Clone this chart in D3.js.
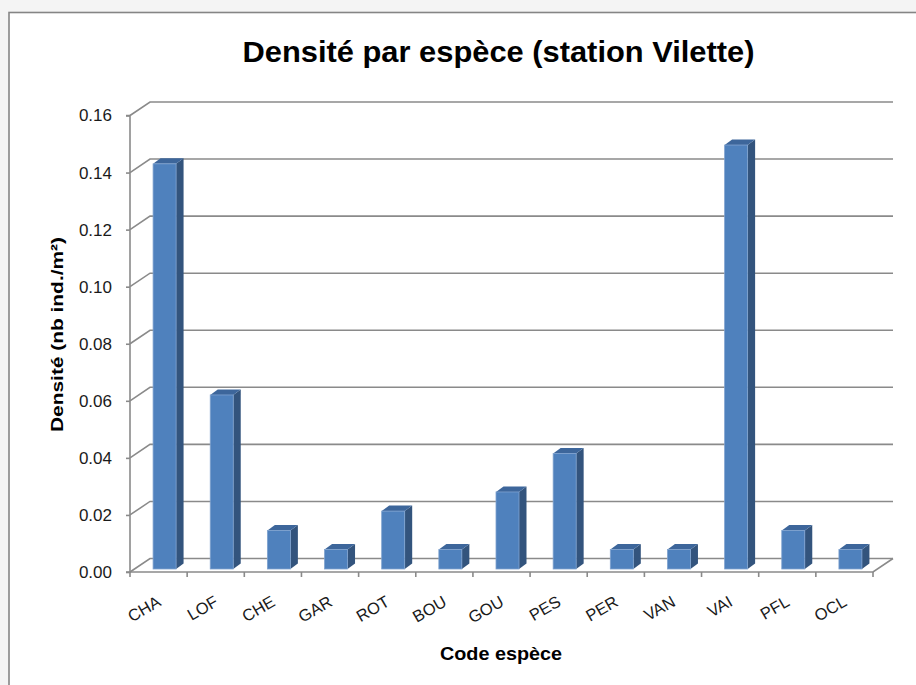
<!DOCTYPE html>
<html>
<head>
<meta charset="utf-8">
<script src="https://cdn.jsdelivr.net/npm/d3@7"></script>
<style>
  html, body { margin: 0; padding: 0; background: #f4f4f4; }
  svg { display: block; font-family: "Liberation Sans", Arial, sans-serif; }
</style>
</head>
<body>
<svg id="chart" width="916" height="685"></svg>
<script>
// ************************************
// Data
// ************************************
let speciesCodes = ["CHA", "LOF", "CHE", "GAR", "ROT", "BOU", "GOU", "PES", "PER", "VAN", "VAI", "PFL", "OCL"];
let densityValues = [0.142, 0.061, 0.0135, 0.0068, 0.0203, 0.0068, 0.027, 0.0405, 0.0068, 0.0068, 0.1486, 0.0135, 0.0068];
let yTickValues = [0, 0.02, 0.04, 0.06, 0.08, 0.10, 0.12, 0.14, 0.16];

let chartTitle = "Densité par espèce (station Vilette)";
let yTitle = "Densité (nb ind./m²)";
let xTitle = "Code espèce";

// ************************************
// Layout
// ************************************
let svgWidth = 916,
  svgHeight = 685;

// front plane of the 3d box, back wall is shifted by depth
let plotLeft = 130,
  plotRight = 873,
  plotTop = 115.5,
  plotBottom = 572;
let wallDx = 20,
  wallDy = -13.5;

// bars sit a little behind the front edge
let barDx = 7.5,
  barDy = -5.5,
  barShiftX = 6,
  barShiftY = -3,
  barWidth = 23;

let x = d3.scaleBand()
  .domain(speciesCodes)
  .range([plotLeft, plotRight]);

let y = d3.scaleLinear()
  .domain([0, 0.16])
  .range([plotBottom, plotTop]);

let svg = d3.select("#chart");

// ************************************
// Frame
// ************************************
svg.append("rect")
  .attr("x", 9)
  .attr("y", 12.5)
  .attr("width", svgWidth + 10)
  .attr("height", svgHeight + 10)
  .attr("fill", "#fff")
  .attr("stroke", "#858585")
  .attr("stroke-width", 1.6);

svg.append("text")
  .attr("x", 498.5)
  .attr("y", 62)
  .attr("text-anchor", "middle")
  .attr("font-size", 30)
  .attr("font-weight", "bold")
  .attr("textLength", 512)
  .attr("lengthAdjust", "spacingAndGlyphs")
  .attr("fill", "#000")
  .text(chartTitle);

// ************************************
// Walls and gridlines
// ************************************
let gridColor = "#8a8a8a";
let grid = svg.append("g")
  .attr("fill", "none")
  .attr("stroke", gridColor)
  .attr("stroke-width", 1.6);

// diagonal on the side wall + horizontal line on the back wall
grid.selectAll(".grid")
  .data(yTickValues)
  .enter()
  .append("path")
  .attr("class", "grid")
  .attr("d", function(d) {
    let yy = y(d);
    return "M" + plotLeft + "," + yy +
      "L" + (plotLeft + wallDx) + "," + (yy + wallDy) +
      "L" + (plotRight + wallDx) + "," + (yy + wallDy);
  });

// floor front edge and right edge
grid.append("path")
  .attr("d", "M" + plotLeft + "," + plotBottom +
    "L" + plotRight + "," + plotBottom +
    "L" + (plotRight + wallDx) + "," + (plotBottom + wallDy));

// y axis line + ticks
let yAxis = d3.axisLeft(y)
  .tickValues(yTickValues)
  .tickSize(4)
  .tickPadding(14)
  .tickFormat(d3.format(".2f"));

let yAxisG = svg.append("g")
  .attr("transform", "translate(" + plotLeft + ",0)")
  .call(yAxis);
yAxisG.select(".domain")
  .attr("stroke", gridColor)
  .attr("stroke-width", 1.6)
  .attr("d", "M-4," + plotTop + "H0V" + plotBottom + "H-4");
yAxisG.selectAll(".tick line")
  .attr("stroke", gridColor)
  .attr("stroke-width", 1.6);
yAxisG.selectAll(".tick text")
  .attr("font-size", 17)
  .attr("font-family", "Liberation Sans, Arial, sans-serif")
  .attr("fill", "#1a1a1a");

// x axis ticks at category boundaries
let xBounds = speciesCodes.map(function(d) { return x(d); }).concat([plotRight]);
svg.append("g")
  .selectAll("line")
  .data(xBounds)
  .enter()
  .append("line")
  .attr("x1", function(d) { return d; })
  .attr("x2", function(d) { return d; })
  .attr("y1", plotBottom)
  .attr("y2", plotBottom + 5)
  .attr("stroke", gridColor)
  .attr("stroke-width", 1.6);

// rotated category labels
svg.append("g")
  .selectAll("text")
  .data(speciesCodes)
  .enter()
  .append("text")
  .attr("text-anchor", "end")
  .attr("font-size", 16.5)
  .attr("fill", "#1a1a1a")
  .attr("transform", function(d) {
    let cx = x(d) + x.bandwidth() / 2 + 3.5;
    return "translate(" + cx + "," + (plotBottom + 33) + ") rotate(-30)";
  })
  .text(function(d) { return d; });

// ************************************
// Bars (front, side, top faces)
// ************************************
let bars = svg.append("g")
  .selectAll(".bar")
  .data(speciesCodes.map(function(code, i) {
    return { code: code, value: densityValues[i] };
  }))
  .enter()
  .append("g")
  .attr("class", "bar");

function barLeft(d) {
  return x(d.code) + x.bandwidth() / 2 + barShiftX - barWidth / 2;
}
function barTop(d) {
  return y(d.value) + barShiftY;
}
let barBase = y(0) + barShiftY;

// side face
bars.append("path")
  .attr("fill", "#33547d")
  .attr("d", function(d) {
    let x1 = barLeft(d) + barWidth,
      t = barTop(d);
    return "M" + x1 + "," + barBase +
      "L" + x1 + "," + t +
      "L" + (x1 + barDx) + "," + (t + barDy) +
      "L" + (x1 + barDx) + "," + (barBase + barDy) + "Z";
  });

// top face
bars.append("path")
  .attr("fill", "#3d669b")
  .attr("d", function(d) {
    let x0 = barLeft(d),
      t = barTop(d);
    return "M" + x0 + "," + t +
      "L" + (x0 + barWidth) + "," + t +
      "L" + (x0 + barWidth + barDx) + "," + (t + barDy) +
      "L" + (x0 + barDx) + "," + (t + barDy) + "Z";
  });

// front face
bars.append("rect")
  .attr("x", barLeft)
  .attr("y", barTop)
  .attr("width", barWidth)
  .attr("height", function(d) { return barBase - barTop(d); })
  .attr("fill", "#4f81bd")
  .attr("stroke", "#7fa2cf")
  .attr("stroke-width", 0.8);

// ************************************
// Axis titles
// ************************************
svg.append("text")
  .attr("transform", "translate(63,334.5) rotate(-90)")
  .attr("text-anchor", "middle")
  .attr("font-size", 17)
  .attr("font-weight", "bold")
  .attr("textLength", 195)
  .attr("lengthAdjust", "spacingAndGlyphs")
  .attr("fill", "#000")
  .text(yTitle);

svg.append("text")
  .attr("x", 501)
  .attr("y", 660)
  .attr("text-anchor", "middle")
  .attr("font-size", 19)
  .attr("font-weight", "bold")
  .attr("textLength", 122)
  .attr("lengthAdjust", "spacingAndGlyphs")
  .attr("fill", "#000")
  .text(xTitle);
</script>
</body>
</html>
